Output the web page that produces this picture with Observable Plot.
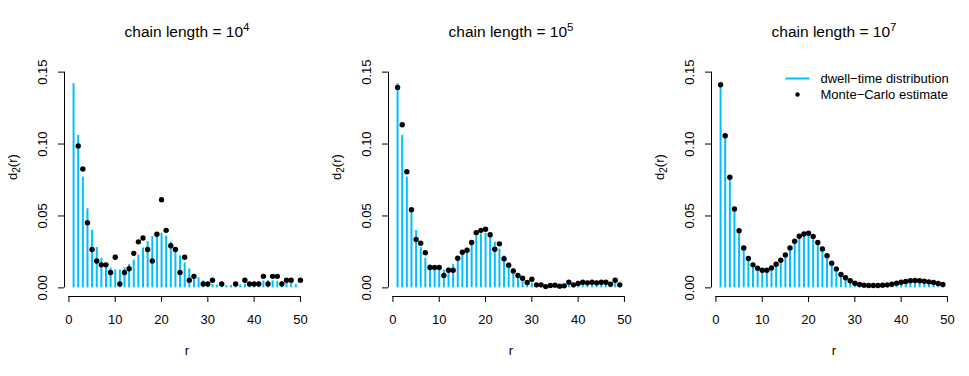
<!DOCTYPE html>
<html>
<head>
<meta charset="utf-8">
<script src="https://cdn.jsdelivr.net/npm/d3@7"></script>
<script src="https://cdn.jsdelivr.net/npm/@observablehq/plot@0.6"></script>
<style>
  html, body { margin: 0; padding: 0; background: #fff; }
  #chart { position: relative; width: 969px; height: 376px; font-family: "Liberation Sans", Arial, Helvetica, sans-serif; }
  #chart > div { position: absolute; top: 0; }
</style>
</head>
<body>
<div id="chart"></div>
<script>
// ---- data ----
const rValues = d3.range(1, 50); // r = 1..49 (lags)
const dwellTime = [0.142, 0.106, 0.077, 0.055, 0.040, 0.028, 0.0205, 0.016, 0.0137, 0.0125,
  0.0124, 0.0138, 0.0163, 0.0193, 0.0228, 0.0277, 0.0322, 0.0357, 0.0376, 0.0380,
  0.0360, 0.0318, 0.0270, 0.0222, 0.0173, 0.0132, 0.0094, 0.0070, 0.0049, 0.0033,
  0.0024, 0.0019, 0.0016, 0.0016, 0.0016, 0.0018, 0.0021, 0.0026, 0.0032, 0.0038,
  0.0043, 0.0048, 0.0050, 0.0049, 0.0046, 0.0042, 0.0037, 0.0030, 0.0023];

// chain length 1e4 (only nonzero, visible estimates)
const mc4R = [2, 3, 4, 5, 6, 7, 8, 9, 10, 11, 12, 13, 14, 15, 16, 17, 18, 19, 20, 21, 22, 23, 24, 25, 26, 27,
  29, 30, 31, 33, 36, 38, 39, 40, 41, 42, 43, 44, 45, 46, 47, 48, 50];
const mc4P = [0.0987, 0.0827, 0.0453, 0.0267, 0.0187, 0.0160, 0.0160, 0.0107, 0.0213, 0.0027,
  0.0107, 0.0133, 0.0240, 0.0320, 0.0347, 0.0267, 0.0187, 0.0373, 0.0613, 0.0400,
  0.0293, 0.0267, 0.0107, 0.0213, 0.0053, 0.0080,
  0.0027, 0.0027, 0.0053, 0.0027, 0.0027, 0.0053, 0.0027, 0.0027, 0.0027, 0.0080,
  0.0027, 0.0080, 0.0080, 0.0027, 0.0053, 0.0053, 0.0053];

// chain length 1e5 (r = 1..49)
const mc5P = [0.1394, 0.1134, 0.0807, 0.0543, 0.0336, 0.0311, 0.0244, 0.0142, 0.0142, 0.0142,
  0.0086, 0.0123, 0.0123, 0.0206, 0.0248, 0.0262, 0.0315, 0.0383, 0.0400, 0.0408,
  0.0369, 0.0269, 0.0306, 0.0202, 0.0158, 0.0118, 0.0086, 0.0067, 0.0037, 0.0060,
  0.0021, 0.0021, 0.0009, 0.0016, 0.0019, 0.0012, 0.0014, 0.0039, 0.0021, 0.0030,
  0.0039, 0.0035, 0.0039, 0.0035, 0.0039, 0.0039, 0.0026, 0.0053, 0.0021];

// chain length 1e7 (r = 1..49)
const mc7P = [0.1412, 0.1058, 0.0769, 0.0549, 0.0398, 0.0278, 0.0204, 0.0160, 0.0137, 0.0123,
  0.0123, 0.0139, 0.0164, 0.0192, 0.0229, 0.0278, 0.0324, 0.0359, 0.0375, 0.0380,
  0.0358, 0.0315, 0.0271, 0.0223, 0.0172, 0.0132, 0.0093, 0.0070, 0.0049, 0.0032,
  0.0023, 0.0019, 0.0016, 0.0016, 0.0016, 0.0019, 0.0021, 0.0026, 0.0032, 0.0039,
  0.0044, 0.0049, 0.0051, 0.0049, 0.0046, 0.0042, 0.0037, 0.0030, 0.0023];

const titleBase = "chain length = 10";
const titleExponents = ["4", "5", "7"];
const xTicks = [0, 10, 20, 30, 40, 50];
const yTicks = [0, 0.05, 0.10, 0.15];
const legendLabels = ["dwell\u2212time distribution", "Monte\u2212Carlo estimate"];
const xLabel = "r";
const yLabelBase = "d", yLabelSub = "2", yLabelRest = "(r)";

// ---- layout constants ----
const BAR = "#00BFFF";
const xDomain = [-0.96, 51.96];
const yDomain = [-0.006, 0.156];
const panelLeft = [0, 323.5, 647];
const W = 322, H = 376;

const dwellData = rValues.map((r, i) => ({r, p: dwellTime[i]}));
const mcSets = [
  mc4R.map((r, i) => ({r, p: mc4P[i]})),
  rValues.map((r, i) => ({r, p: mc5P[i]})),
  rValues.map((r, i) => ({r, p: mc7P[i]}))
];

const lineSymbol = {draw(ctx) { ctx.moveTo(-12, 0); ctx.lineTo(12, 0); }};

function panel(k) {
  const marks = [
    Plot.ruleX(dwellData, {x: "r", y1: 0, y2: "p", stroke: BAR, strokeWidth: 2}),
    Plot.dot(mcSets[k], {x: "r", y: "p", r: 2.7, fill: "black", stroke: "none"}),
    // axes
    Plot.axisX({ticks: xTicks, tickSize: 6, tickPadding: 12, label: null, fontSize: 13}),
    Plot.ruleY([yDomain[0]], {x1: xTicks[0], x2: xTicks[xTicks.length - 1], stroke: "black"}),
    Plot.axisY({ticks: yTicks, tickSize: 6, tickFormat: () => "", label: null}),
    Plot.ruleX([xDomain[0]], {y1: yTicks[0], y2: yTicks[yTicks.length - 1], stroke: "black"}),
    Plot.text(yTicks, {y: d => d, frameAnchor: "left", dx: -22, rotate: -90,
      text: d => d3.format(".2f")(d), textAnchor: "middle", lineAnchor: "middle", fontSize: 13, fill: "black"}),
    // titles and labels
    Plot.text([titleBase + titleExponents[k]], {frameAnchor: "top", dy: -31, text: d => d, fontSize: 15.5, lineAnchor: "middle", fill: "black", className: "ttl"}),
    Plot.text([xLabel], {frameAnchor: "bottom", dy: 54, text: d => d, fontSize: 13, lineAnchor: "middle", fill: "black"}),
    Plot.text([yLabelBase + yLabelSub + yLabelRest], {frameAnchor: "left", dx: -52, rotate: -90, text: d => d, fontSize: 13, lineAnchor: "middle", fill: "black", className: "ylab"})
  ];
  if (k === 2) {
    marks.push(
      Plot.dot([legendLabels[0]], {frameAnchor: "top-left", dx: 86, dy: 15, symbol: lineSymbol, stroke: BAR, strokeWidth: 2, fill: "none", r: 1}),
      Plot.dot([legendLabels[1]], {frameAnchor: "top-left", dx: 86, dy: 31, r: 2.2, fill: "black", stroke: "none"}),
      Plot.text([legendLabels[0]], {frameAnchor: "top-left", dx: 109, dy: 15, text: d => d, textAnchor: "start", lineAnchor: "middle", fontSize: 13, fill: "black"}),
      Plot.text([legendLabels[1]], {frameAnchor: "top-left", dx: 109, dy: 31, text: d => d, textAnchor: "start", lineAnchor: "middle", fontSize: 13, fill: "black"})
    );
  }
  const svg = Plot.plot({
    width: W, height: H,
    marginLeft: 64, marginRight: W - 309, marginTop: 63, marginBottom: H - 296,
    style: {fontFamily: '"Liberation Sans", Arial, Helvetica, sans-serif', color: "black", background: "white", overflow: "visible"},
    x: {domain: xDomain},
    y: {domain: yDomain},
    marks
  });
  // superscript exponent in the title, subscript in the y label
  svg.querySelectorAll(".ttl text").forEach(t => {
    t.textContent = titleBase;
    const sup = document.createElementNS("http://www.w3.org/2000/svg", "tspan");
    sup.setAttribute("dy", "-6");
    sup.setAttribute("font-size", "11.5");
    sup.textContent = titleExponents[k];
    t.appendChild(sup);
  });
  svg.querySelectorAll(".ylab text").forEach(t => {
    t.textContent = yLabelBase;
    const sub = document.createElementNS("http://www.w3.org/2000/svg", "tspan");
    sub.setAttribute("dy", "3.5");
    sub.setAttribute("font-size", "10");
    sub.textContent = yLabelSub;
    const rest = document.createElementNS("http://www.w3.org/2000/svg", "tspan");
    rest.setAttribute("dy", "-3.5");
    rest.textContent = yLabelRest;
    t.appendChild(sub);
    t.appendChild(rest);
  });
  return svg;
}

const chart = document.getElementById("chart");
for (let k = 0; k < 3; k++) {
  const div = document.createElement("div");
  div.style.left = panelLeft[k] + "px";
  div.appendChild(panel(k));
  chart.appendChild(div);
}
</script>
</body>
</html>
